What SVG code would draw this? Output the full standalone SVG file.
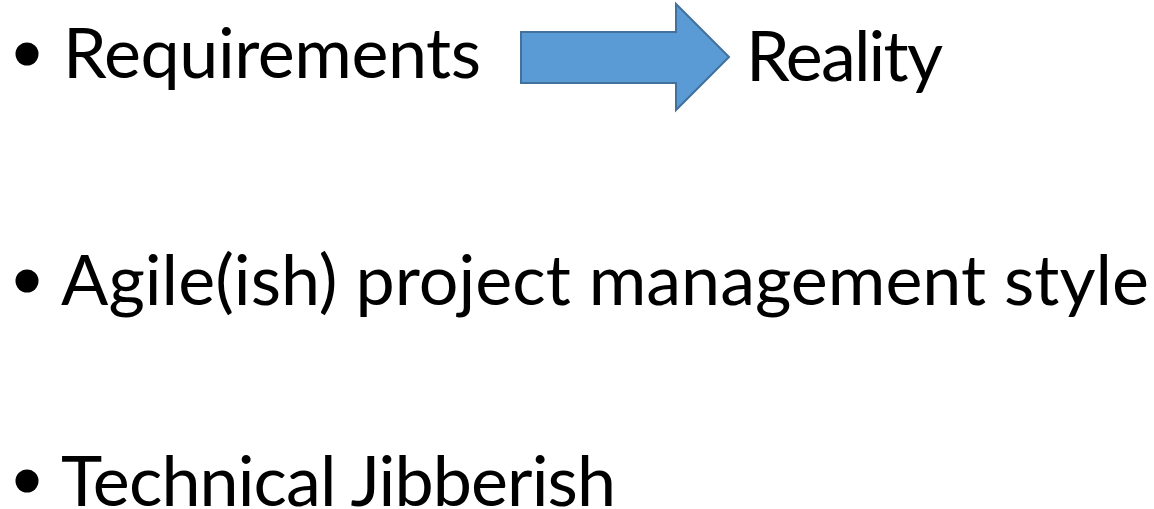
<svg xmlns="http://www.w3.org/2000/svg" width="1154" height="509" viewBox="0 0 1154 509">
<style>
.t{font-family:Lato,"Open Sans","Liberation Sans",sans-serif;font-size:70px;fill:#000}
.b{fill:#000}
.arrow{fill:#5B9BD5;stroke:#41719C;stroke-width:2}
</style>
<rect width="1154" height="509" fill="#fff"/>
<g id="item1">
<circle class="b" cx="27" cy="54" r="11.5"/>
<text class="t" x="63" y="78" textLength="418" lengthAdjust="spacing">Requirements</text>
</g>
<g id="arrow">
<polygon class="arrow" points="521,32 676,32 676,4 729,57 676,110 676,83 521,83"/>
</g>
<g id="reality">
<text class="t" x="746" y="81" textLength="197" lengthAdjust="spacing">Reality</text>
</g>
<g id="item2">
<circle class="b" cx="27" cy="281" r="11.5"/>
<text class="t" x="61" y="305" textLength="1088" lengthAdjust="spacing">Agile(ish) project management style</text>
</g>
<g id="item3">
<circle class="b" cx="27" cy="481" r="11.5"/>
<text class="t" x="61" y="506" textLength="555" lengthAdjust="spacing">Technical Jibberish</text>
</g>
</svg>
